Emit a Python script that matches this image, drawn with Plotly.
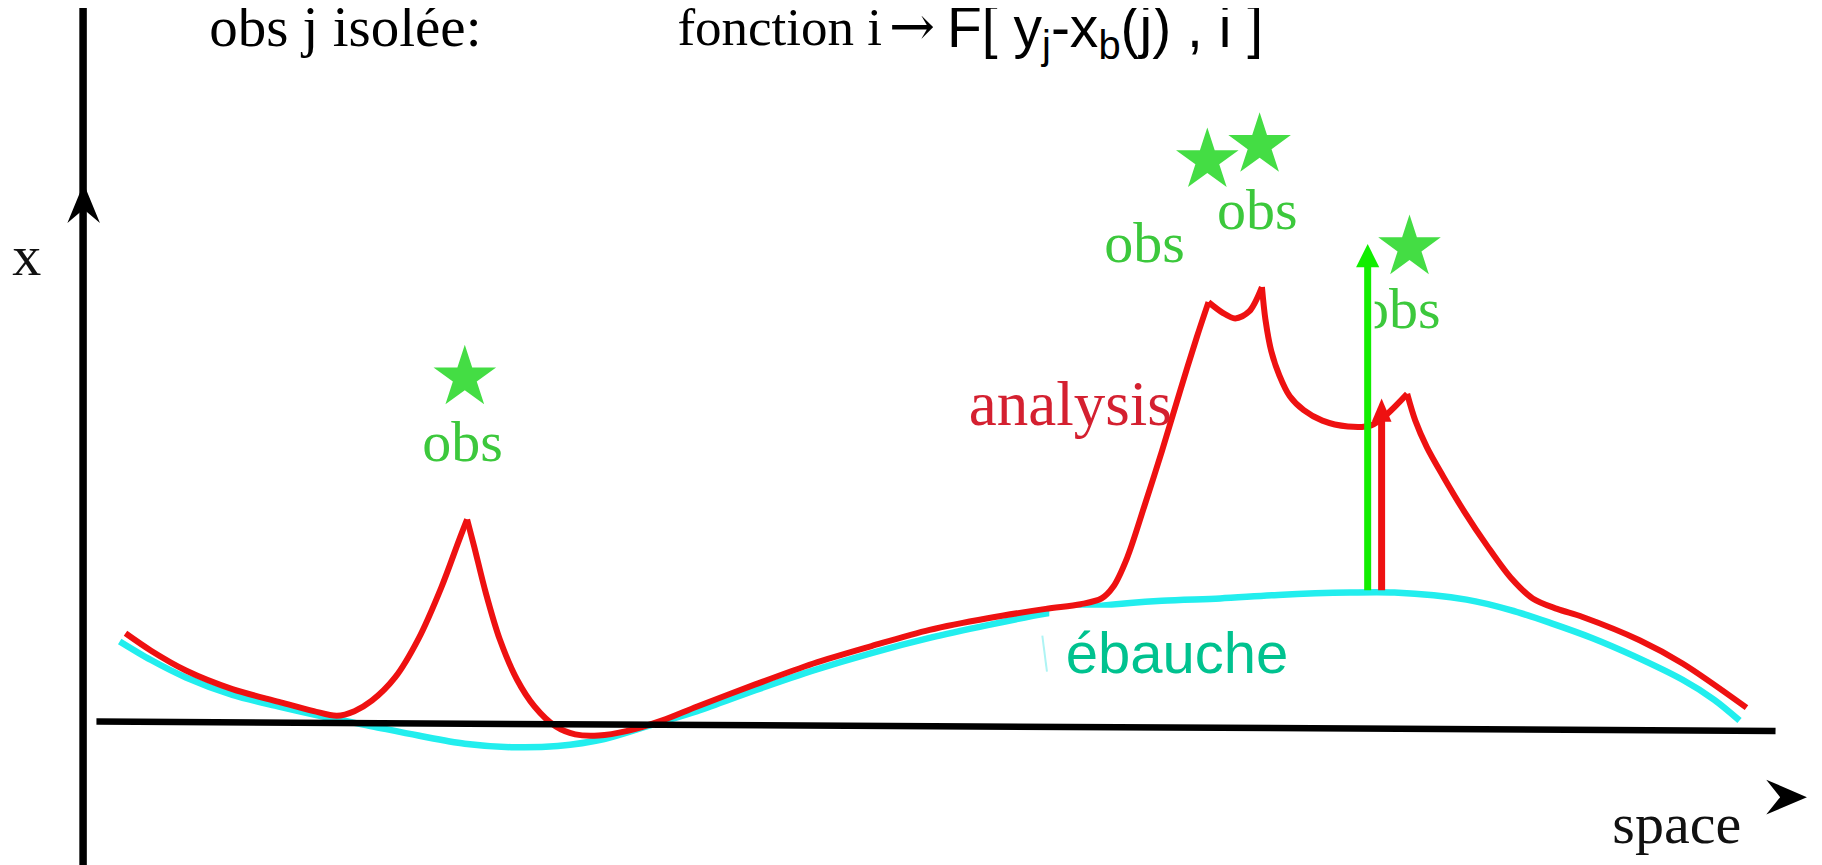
import plotly.graph_objects as go

# ---------------- data (diagram units: x to the right, y downward) ----------------
SCALE = 1.162          # screen pixels per diagram unit
PAGE_MARGIN = 8        # default body margin of the html page (px)
FIG_W, FIG_H = 1822 - PAGE_MARGIN, 865 - PAGE_MARGIN

# background (ébauche) curve
ebauche_x = [103, 130, 160, 200, 240, 280, 320, 360, 400, 440, 480, 520, 560, 600, 650, 700,
             750, 800, 850, 900, 950, 1000, 1050, 1100, 1162, 1200, 1262, 1300, 1334, 1370,
             1405, 1448, 1475, 1497]
ebauche_y = [552, 568, 583, 598, 608, 617, 625, 633, 640, 643, 642, 636, 624, 612, 594, 577,
             562, 549, 538, 528, 521, 517, 515, 512, 510, 510, 516, 525, 536, 549,
             564, 585, 602, 620]

# analysis curve, split at its cusps (observation points)
analysis_segments_x = [
    [108, 130, 160, 200, 240, 270, 290, 305, 320, 340, 360, 380, 395, 402],
    [402, 408, 418, 430, 445, 460, 478, 495, 515, 540, 570, 600, 650, 700, 750, 800, 850,
     900, 930, 948, 958, 970, 985, 1000, 1016, 1030, 1040],
    [1040, 1052, 1063, 1075, 1086],
    [1086, 1089, 1094, 1101, 1110, 1122, 1138, 1160, 1180, 1193, 1211],
    [1211, 1218, 1228, 1242, 1260, 1280, 1300, 1319, 1340, 1362, 1411, 1448, 1503],
]
analysis_segments_y = [
    [545, 560, 577, 593, 604, 612, 616, 612, 603, 583, 550, 505, 465, 447],
    [447, 470, 510, 550, 585, 608, 625, 632, 633, 629, 620, 608, 589, 571, 556, 542, 532,
     524, 520, 515, 505, 480, 435, 388, 335, 290, 260],
    [260, 269, 274, 268, 247],
    [247, 275, 302, 323, 341, 353, 362, 367, 366, 357, 339],
    [339, 362, 385, 410, 440, 470, 497, 515, 524, 531, 551, 571, 609],
]

# observations (stars) and their labels
obs_x = [400, 1039, 1084, 1213]
obs_y = [325, 138, 125, 213]
obs_labels = ["obs", "obs", "obs", "obs"]
obs_label_x = [398, 985, 1082, 1205]
obs_label_y = [384, 213, 185, 270]

# increment arrows at the isolated observation
incr_x = [1177, 1189]
incr_base_y = [508, 508]
incr_tip_y = [210, 343]
incr_colors = ["#11ee00", "#ee1111"]

title_left = "obs j isolée:"
title_mid = "fonction i"
title_arrow = "\u2192"
title_right = "F[ y<sub>j</sub>-x<sub>b</sub>(j) , i ]"

# ---------------- figure ----------------
SERIF = "Liberation Serif, Times New Roman, serif"
SANS = "Liberation Sans, Arial, sans-serif"
RED = "#ee1111"
CYAN = "#22eeee"

fig = go.Figure()


def line(xs, ys, color, width, shape="linear"):
    fig.add_trace(go.Scatter(x=xs, y=ys, mode="lines",
                             line=dict(color=color, width=width, shape=shape, smoothing=0.9),
                             hoverinfo="skip"))


def poly(xs, ys, color):
    fig.add_trace(go.Scatter(x=xs + [xs[0]], y=ys + [ys[0]], mode="lines", fill="toself",
                             fillcolor=color, line=dict(color=color, width=0), hoverinfo="skip"))


def text(x, y, s, size, color, family, pos="middle center"):
    fig.add_trace(go.Scatter(x=[x], y=[y], mode="text", text=[s], textposition=pos,
                             textfont=dict(size=size, color=color, family=family),
                             hoverinfo="skip"))


# background curve
line(ebauche_x, ebauche_y, CYAN, 6.5, "spline")
# white box behind the "ébauche" label
poly([903, 1112, 1112, 903], [523, 523, 595, 595], "white")
line([897, 901], [547, 578], "#aef4f4", 2)
# analysis curve
for sx, sy in zip(analysis_segments_x, analysis_segments_y):
    line(sx, sy, RED, 6, "spline")

# axes
line([71.5, 71.5], [6, 750], "black", 7.5)
line([83, 1528], [621, 629], "black", 6.5)
poly([72, 86, 72, 58], [158, 192, 180, 192], "black")
poly([1555, 1520, 1532, 1520], [686, 671, 686, 701], "black")

# stars
fig.add_trace(go.Scatter(x=obs_x, y=obs_y, mode="markers",
                         marker=dict(symbol="star", size=47, color="#44dd44",
                                     line=dict(width=0)), hoverinfo="skip"))

# labels
for lx, ly, s in zip(obs_label_x, obs_label_y, obs_labels):
    text(lx, ly, s, 58, "#3cc83c", SERIF)
text(921, 352, "analysis", 63, "#d42030", SERIF)
text(1013, 567, "ébauche", 58, "#00c28f", SANS)
text(23, 224, "x", 58, "#111111", SERIF)
text(1443, 713, "space", 58, "#111111", SERIF)

text(180, 27, title_left, 57, "black", SERIF, "middle right")
text(583, 27, title_mid, 53, "black", SERIF, "middle right")
text(785, 27, title_arrow, 55, "black", "DejaVu Serif", "middle center")
text(815, 28, title_right, 57, "black", SANS, "middle right")

# white mask hiding part of the last "obs" label
poly([1162, 1183, 1183, 1162], [246, 246, 294, 294], "white")

# increment arrows
for ax_, b, t, c in zip(incr_x, incr_base_y, incr_tip_y, incr_colors):
    head = 20
    half = 10 if c == incr_colors[0] else 8.5
    line([ax_, ax_], [b, t + head - 2], c, 7)
    poly([ax_, ax_ + half, ax_ - half], [t, t + head, t + head], c)

x0 = PAGE_MARGIN / SCALE
y0 = PAGE_MARGIN / SCALE
fig.update_layout(
    width=FIG_W, height=FIG_H,
    margin=dict(l=0, r=0, t=0, b=0),
    paper_bgcolor="white", plot_bgcolor="white",
    showlegend=False, hovermode=False,
    xaxis=dict(range=[x0, x0 + FIG_W / SCALE], visible=False, fixedrange=True),
    yaxis=dict(range=[y0 + FIG_H / SCALE, y0], visible=False, fixedrange=True),
)

fig.write_html("out.html")
